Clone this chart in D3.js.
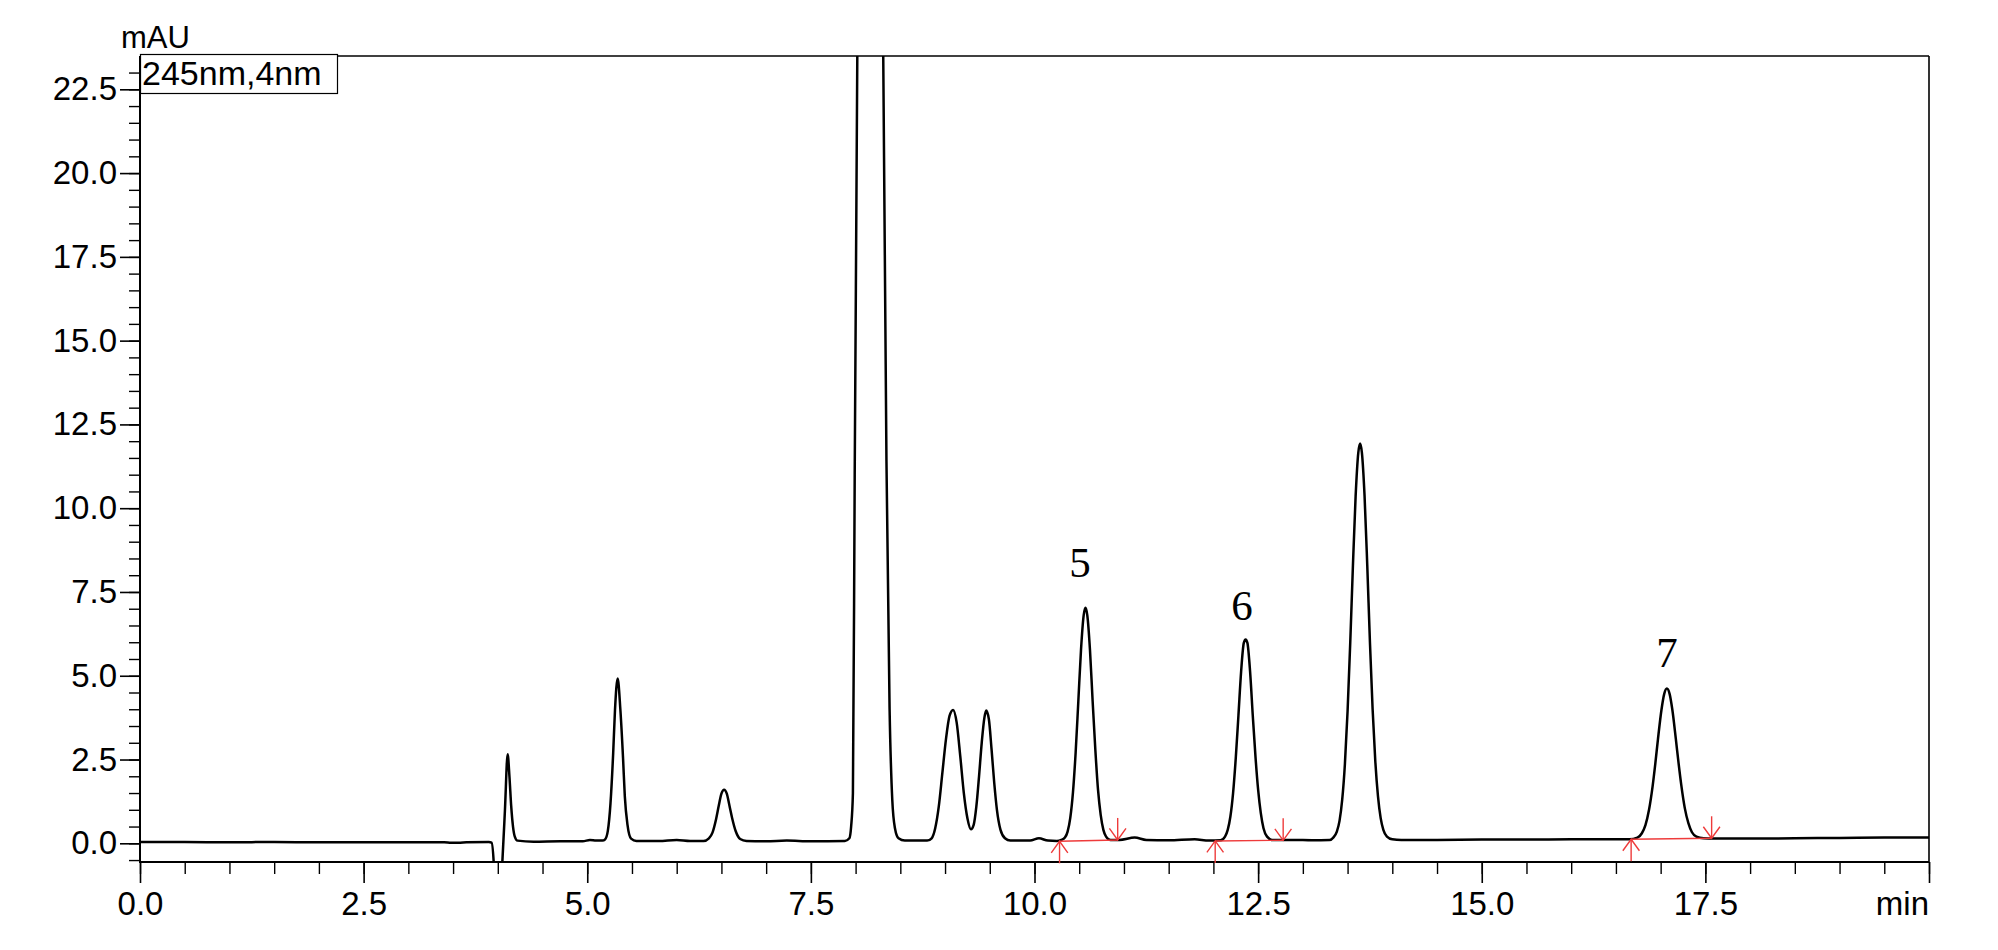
<!DOCTYPE html>
<html>
<head>
<meta charset="utf-8">
<script src="https://cdn.jsdelivr.net/npm/d3@7"></script>
<style>
  html, body { margin: 0; padding: 0; background: #fff; }
  svg { display: block; }
</style>
</head>
<body>
<svg id="chart" width="1998" height="950"></svg>
<script>
// ---------------- DATA ----------------
// chromatogram trace: [time (min), absorbance (mAU)]
const trace = [
  [0.00,0.04],[0.50,0.04],[1.00,0.03],[1.50,0.04],[2.00,0.03],[2.50,0.03],[3.00,0.03],[3.40,0.03],
  [3.48,0.015],[3.58,0.02],[3.65,0.03],[3.90,0.04],[3.93,0.02],[3.955,-0.60],[3.97,-1.50],[4.03,-1.50],
  [4.05,-0.60],[4.08,1.00],[4.11,2.66],[4.13,2.00],[4.15,1.10],[4.17,0.50],[4.19,0.20],[4.22,0.08],
  [4.40,0.05],[4.70,0.06],[4.95,0.06],[5.03,0.10],[5.10,0.08],[5.17,0.08],[5.20,0.12],[5.23,0.37],
  [5.26,1.20],[5.29,2.70],[5.31,3.97],[5.34,4.92],[5.37,4.00],[5.40,2.55],[5.42,1.40],[5.45,0.55],
  [5.49,0.14],[5.55,0.07],[5.80,0.07],[6.00,0.10],[6.15,0.07],[6.30,0.07],[6.36,0.15],[6.40,0.32],
  [6.44,0.72],[6.47,1.12],[6.50,1.48],[6.53,1.60],[6.56,1.48],[6.59,1.12],[6.62,0.75],[6.66,0.36],
  [6.71,0.13],[6.78,0.07],[7.00,0.06],[7.23,0.08],[7.50,0.06],[7.88,0.07],[7.93,0.15],[7.95,0.50],
  [7.97,1.50],[7.99,11.0],[8.019,23.5],[8.05,40.0],[8.17,48.0],[8.28,40.0],[8.309,23.5],[8.345,11.4],
  [8.38,4.00],[8.41,1.30],[8.44,0.45],[8.48,0.15],[8.55,0.08],[8.80,0.08],[8.85,0.15],[8.89,0.45],
  [8.93,1.10],[8.97,2.10],[9.01,3.10],[9.05,3.80],[9.09,3.98],[9.13,3.60],[9.17,2.60],[9.21,1.50],
  [9.25,0.75],[9.29,0.42],[9.32,0.55],[9.35,1.10],[9.38,2.00],[9.41,3.00],[9.44,3.75],[9.46,3.96],
  [9.49,3.70],[9.52,2.80],[9.55,1.80],[9.58,1.00],[9.62,0.40],[9.67,0.15],[9.73,0.08],[9.95,0.08],
  [10.05,0.15],[10.15,0.08],[10.25,0.07],[10.30,0.10],[10.34,0.17],[10.37,0.35],[10.40,0.76],[10.43,1.52],
  [10.46,2.71],[10.49,4.24],[10.52,5.78],[10.55,6.81],[10.57,7.03],[10.59,6.81],[10.62,5.78],[10.65,4.24],
  [10.68,2.80],[10.71,1.60],[10.74,0.85],[10.77,0.40],[10.80,0.20],[10.85,0.10],[10.95,0.10],[11.12,0.17],
  [11.25,0.10],[11.50,0.09],[11.79,0.12],[11.95,0.08],[12.08,0.09],[12.13,0.20],[12.16,0.40],[12.19,0.80],
  [12.22,1.50],[12.25,2.54],[12.28,3.82],[12.31,5.13],[12.34,5.98],[12.36,6.08],[12.38,5.98],[12.41,5.13],
  [12.44,3.82],[12.47,2.60],[12.50,1.60],[12.53,0.90],[12.56,0.45],[12.60,0.20],[12.66,0.10],[12.90,0.10],
  [13.10,0.09],[13.30,0.10],[13.34,0.17],[13.38,0.35],[13.41,0.67],[13.44,1.30],[13.47,2.36],[13.50,3.94],
  [13.53,6.00],[13.56,8.30],[13.59,10.36],[13.62,11.66],[13.64,11.93],[13.66,11.66],[13.69,10.36],[13.72,8.30],
  [13.75,6.00],[13.78,4.00],[13.81,2.45],[13.84,1.40],[13.87,0.75],[13.90,0.40],[13.94,0.20],[14.00,0.12],
  [14.10,0.10],[14.50,0.10],[15.00,0.11],[15.50,0.11],[16.00,0.12],[16.65,0.12],[16.74,0.17],[16.79,0.30],
  [16.83,0.54],[16.87,1.00],[16.91,1.70],[16.94,2.37],[16.97,3.11],[17.01,4.00],[17.04,4.46],[17.07,4.62],
  [17.10,4.46],[17.13,4.00],[17.17,3.11],[17.20,2.40],[17.23,1.75],[17.27,1.05],[17.31,0.60],[17.35,0.33],
  [17.40,0.20],[17.48,0.15],[17.60,0.14],[18.00,0.14],[18.50,0.15],[19.00,0.16],[19.50,0.17],[20.00,0.17]
];

// integration baseline markers: [time, mAU]
const integStart = [[10.28,0.06],[12.02,0.07],[16.67,0.12]];
const integEnd   = [[10.93,0.10],[12.78,0.09],[17.57,0.15]];

// peak labels anchored at data coordinates
const peakLabels = ["5","6","7"];
const labelTime  = [10.51, 12.32, 17.07];
const labelMAU   = [7.95, 6.66, 5.27];

// axes
const xMajorTicks = [0, 2.5, 5, 7.5, 10, 12.5, 15, 17.5, 20];
const xTickLabels = ["0.0","2.5","5.0","7.5","10.0","12.5","15.0","17.5",""];
const xMinorTicks = d3.range(0, 20.001, 0.5);
const yMajorTicks = [0, 2.5, 5, 7.5, 10, 12.5, 15, 17.5, 20, 22.5];
const yTickLabels = ["0.0","2.5","5.0","7.5","10.0","12.5","15.0","17.5","20.0","22.5"];
const yMinorTicks = d3.range(-0.5, 23.001, 0.5);
const xDomain = [0, 20];
const yDomain = [-0.558, 23.494];
const yUnit = "mAU";
const xUnit = "min";
const legendText = "245nm,4nm";

// ---------------- LAYOUT ----------------
const L = 140, R = 1929, T = 56, B = 862;
const sans = "'Liberation Sans', Arial, sans-serif";
const serif = "'Liberation Serif', 'Times New Roman', serif";

const svg = d3.select("#chart");
const x = d3.scaleLinear().domain(xDomain).range([L, R]);
const y = d3.scaleLinear().domain(yDomain).range([B, T]);

svg.append("defs").append("clipPath").attr("id", "plotclip")
  .append("rect").attr("x", L).attr("y", T).attr("width", R - L).attr("height", B - T);

// minor ticks
svg.append("g").attr("transform", `translate(0,${B})`)
  .call(d3.axisBottom(x).tickValues(xMinorTicks).tickSize(12).tickFormat(""))
  .call(g => g.select(".domain").remove())
  .call(g => g.selectAll("line").attr("stroke", "#000").attr("stroke-width", 1.4));
svg.append("g").attr("transform", `translate(${L},0)`)
  .call(d3.axisLeft(y).tickValues(yMinorTicks).tickSize(11).tickFormat(""))
  .call(g => g.select(".domain").remove())
  .call(g => g.selectAll("line").attr("stroke", "#000").attr("stroke-width", 1.4));

// major ticks + labels
svg.append("g").attr("transform", `translate(0,${B})`)
  .call(d3.axisBottom(x).tickValues(xMajorTicks).tickSize(21).tickPadding(9)
    .tickFormat((d, i) => xTickLabels[i]))
  .call(g => g.select(".domain").remove())
  .call(g => g.selectAll("line").attr("stroke", "#000").attr("stroke-width", 1.6))
  .call(g => g.selectAll("text").attr("fill", "#000").style("font-family", sans).style("font-size", "33px"));
svg.append("g").attr("transform", `translate(${L},0)`)
  .call(d3.axisLeft(y).tickValues(yMajorTicks).tickSize(20).tickPadding(3)
    .tickFormat((d, i) => yTickLabels[i]))
  .call(g => g.select(".domain").remove())
  .call(g => g.selectAll("line").attr("stroke", "#000").attr("stroke-width", 1.6))
  .call(g => g.selectAll("text").attr("fill", "#000").style("font-family", sans).style("font-size", "33px"));

// frame
svg.append("line").attr("x1", L).attr("x2", R).attr("y1", T).attr("y2", T).attr("stroke", "#000").attr("stroke-width", 1.6);
svg.append("line").attr("x1", R).attr("x2", R).attr("y1", T).attr("y2", B).attr("stroke", "#000").attr("stroke-width", 1.6);
svg.append("line").attr("x1", L).attr("x2", L).attr("y1", T).attr("y2", B + 1).attr("stroke", "#000").attr("stroke-width", 2);
svg.append("line").attr("x1", L - 1).attr("x2", R).attr("y1", B).attr("y2", B).attr("stroke", "#000").attr("stroke-width", 2);

// unit labels
svg.append("text").attr("x", 121).attr("y", 48).text(yUnit)
  .style("font-family", sans).style("font-size", "31px").attr("fill", "#000");
svg.append("text").attr("x", R).attr("y", B + 21 + 9).attr("dy", "0.71em").attr("text-anchor", "end")
  .text(xUnit).style("font-family", sans).style("font-size", "33px").attr("fill", "#000");

// trace
const line = d3.line().x(d => x(d[0])).y(d => y(d[1])).curve(d3.curveMonotoneX);
svg.append("path").datum(trace).attr("clip-path", "url(#plotclip)")
  .attr("d", line).attr("fill", "none").attr("stroke", "#000").attr("stroke-width", 2.5)
  .attr("stroke-linejoin", "round");

// integration markers
const red = "#ee3b3b";
const mk = svg.append("g").attr("stroke", red).attr("stroke-width", 1.4).attr("fill", "none");
integStart.forEach((s, i) => {
  const e = integEnd[i];
  const sx = x(s[0]), sy = y(s[1]), ex = x(e[0]), ey = y(e[1]);
  mk.append("line").attr("x1", sx).attr("y1", sy).attr("x2", ex).attr("y2", ey);
  // start: upward arrow
  mk.append("line").attr("x1", sx).attr("y1", sy).attr("x2", sx).attr("y2", sy + 22);
  mk.append("path").attr("d", `M${sx - 8.3},${sy + 11.5}L${sx},${sy}L${sx + 8.3},${sy + 11.5}`);
  // end: downward arrow
  mk.append("line").attr("x1", ex).attr("y1", ey - 22).attr("x2", ex).attr("y2", ey);
  mk.append("path").attr("d", `M${ex - 8.3},${ey - 11.5}L${ex},${ey}L${ex + 8.3},${ey - 11.5}`);
});

// peak labels
peakLabels.forEach((lab, i) => {
  svg.append("text").attr("x", x(labelTime[i])).attr("y", y(labelMAU[i]))
    .attr("text-anchor", "middle").text(lab)
    .style("font-family", serif).style("font-size", "43px").attr("fill", "#000");
});

// legend box
const lg = svg.append("g");
lg.append("rect").attr("x", 140.5).attr("y", 54.5).attr("width", 197).attr("height", 39)
  .attr("fill", "#fff").attr("stroke", "#000").attr("stroke-width", 1.2);
lg.append("text").attr("x", 142).attr("y", 85).text(legendText)
  .style("font-family", sans).style("font-size", "34px").attr("fill", "#000");
</script>
</body>
</html>
